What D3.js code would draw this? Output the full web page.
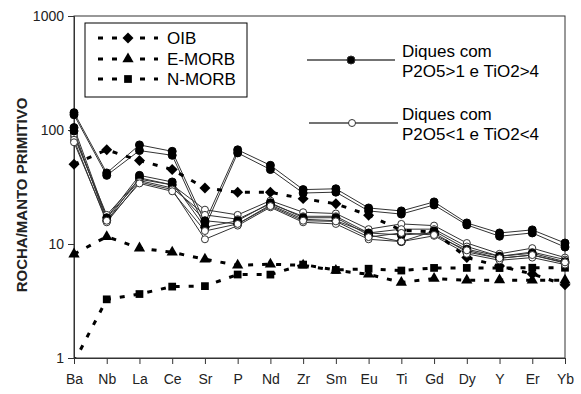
<html>
<head>
<meta charset="utf-8">
<script src="https://d3js.org/d3.v7.min.js"></script>
<style>
body { margin:0; background:#fff; }
text { font-family: Arial, "Liberation Sans", sans-serif; }
</style>
</head>
<body>
<svg id="chart" width="581" height="394"></svg>
<script>
// element order (spidergram)
const elements = ["Ba","Nb","La","Ce","Sr","P","Nd","Zr","Sm","Eu","Ti","Gd","Dy","Y","Er","Yb"];
const yTicks = [1, 10, 100, 1000];

// reference basalts, normalised to primitive mantle
const oib   = [50, 67, 54, 45, 31, 28.4, 28.4, 25, 22.5, 17.9, 13.2, 12.8, 7.6, 6.4, 5.46, 4.38];
const emorb = [8.15, 11.6, 9.2, 8.45, 7.35, 6.5, 6.65, 6.5, 5.86, 5.42, 4.6, 4.98, 4.8, 4.83, 4.8, 4.8];
const nmorb = [0.92, 3.27, 3.64, 4.23, 4.27, 5.4, 5.39, 6.6, 5.92, 6.07, 5.85, 6.17, 6.17, 6.15, 6.19, 6.19];

// dikes P2O5>1 e TiO2>4 (filled)
const diqueA = [142, 42, 74, 65, 15.5, 67, 49, 30, 30.5, 20.7, 19.5, 23.4, 15.3, 12.5, 13.3, 10.2];
const diqueB = [136, 40, 66, 60, 14, 63, 45, 28, 28.5, 19.5, 18.3, 22, 14.7, 11.7, 12.5, 9.4];
const diqueC = [105, 17, 40, 35, 14, 16, 23, 17, 17, 12, 10.5, 13, 9, 7.8, 8.3, 7];
const diqueD = [98, 16, 38, 33, 16, 15, 22, 16.5, 16, 12.5, 12, 12.5, 8.5, 7.5, 8, 6.8];
// dikes P2O5<1 e TiO2<4 (open)
const diqueE = [88, 18, 37, 33, 20, 18, 24, 19, 18.5, 13.5, 15, 14.5, 10.2, 8.2, 9.2, 7.6];
const diqueF = [82, 15.5, 35, 30, 11, 14.5, 21, 15.5, 15, 11, 10.5, 11.8, 8.2, 7.2, 7.6, 6.6];
const diqueG = [92, 17, 36, 31, 18, 16.5, 22.5, 17.5, 17.5, 12.5, 13.5, 13.5, 9.5, 7.8, 8.5, 7.3];
const diqueH = [78, 16, 34, 29, 13, 15, 21.5, 16, 15.8, 11.5, 12.5, 12, 8.8, 7.5, 8, 6.9];

const svg = d3.select("#chart");
const pLeft = 74, pRight = 565, pTop = 16, pBottom = 358;

const x = d3.scalePoint().domain(elements).range([pLeft, pRight]);
const y = d3.scaleLog().domain([1, 1000]).range([pBottom, pTop]);

svg.append("defs").append("clipPath").attr("id", "plotclip")
  .append("rect").attr("x", pLeft - 6).attr("y", pTop).attr("width", pRight - pLeft + 12).attr("height", pBottom - pTop);

// frame
svg.append("rect").attr("x", pLeft).attr("y", pTop).attr("width", pRight - pLeft).attr("height", pBottom - pTop)
  .attr("fill", "none").attr("stroke", "#333").attr("stroke-width", 1);

// y axis
const yAxis = svg.append("g").attr("transform", `translate(${pLeft},0)`)
  .call(d3.axisLeft(y).tickValues(yTicks).tickFormat(d3.format("d")).tickSize(6).tickPadding(4));
yAxis.select(".domain").attr("stroke", "#333");
yAxis.selectAll("line").attr("stroke", "#333");
yAxis.selectAll("text").attr("font-size", 14).attr("fill", "#222").attr("font-family", "Arial, 'Liberation Sans', sans-serif");

// x axis
const xAxis = svg.append("g").attr("transform", `translate(0,${pBottom})`)
  .call(d3.axisBottom(x).tickSize(6).tickPadding(10));
xAxis.select(".domain").attr("stroke", "#333");
xAxis.selectAll("line").attr("stroke", "#333");
xAxis.selectAll("text").attr("font-size", 14).attr("fill", "#222").attr("font-family", "Arial, 'Liberation Sans', sans-serif");

svg.append("text")
  .attr("transform", "translate(27,195) rotate(-90)")
  .attr("text-anchor", "middle")
  .attr("font-size", 15).attr("font-weight", "bold").attr("fill", "#222")
  .text("ROCHA/MANTO PRIMITIVO");

const plot = svg.append("g").attr("clip-path", "url(#plotclip)");
const line = d3.line().x((d, i) => x(elements[i])).y(d => y(d));

// dike lines
const dikes = [
  {v: diqueA, filled: true}, {v: diqueB, filled: true},
  {v: diqueE, filled: false}, {v: diqueG, filled: false},
  {v: diqueC, filled: true}, {v: diqueD, filled: true},
  {v: diqueF, filled: false}, {v: diqueH, filled: false}
];
dikes.forEach(s => {
  plot.append("path").datum(s.v).attr("d", line)
    .attr("fill", "none").attr("stroke", "#333").attr("stroke-width", 1);
});

// reference dashed lines (diamond = square turned 45deg)
const refs = [
  {v: oib, sym: d3.symbolSquare, size: 60, rot: 45},
  {v: emorb, sym: d3.symbolTriangle, size: 55, rot: 0},
  {v: nmorb, sym: d3.symbolSquare, size: 60, rot: 0}
];
refs.forEach(s => {
  plot.append("path").datum(s.v).attr("d", line)
    .attr("fill", "none").attr("stroke", "#000").attr("stroke-width", 3)
    .attr("stroke-dasharray", "5,9");
  plot.selectAll(null).data(s.v).enter().append("path")
    .attr("transform", (d, i) => `translate(${x(elements[i])},${y(d)}) rotate(${s.rot})`)
    .attr("d", d3.symbol().type(s.sym).size(s.size)).attr("fill", "#000");
});

// dike markers
dikes.forEach(s => {
  plot.selectAll(null).data(s.v).enter().append("circle")
    .attr("cx", (d, i) => x(elements[i])).attr("cy", d => y(d))
    .attr("r", s.filled ? 4 : 3.5)
    .attr("fill", s.filled ? "#000" : "#fff")
    .attr("stroke", s.filled ? "#000" : "#333").attr("stroke-width", 1);
});

// legend 1
const lg = svg.append("g");
lg.append("rect").attr("x", 85).attr("y", 23).attr("width", 162).attr("height", 74)
  .attr("fill", "#fff").attr("stroke", "#000").attr("stroke-width", 1);
const legRefs = [
  {name: "OIB", sym: d3.symbolSquare, size: 60, rot: 45, yy: 38},
  {name: "E-MORB", sym: d3.symbolTriangle, size: 55, rot: 0, yy: 59},
  {name: "N-MORB", sym: d3.symbolSquare, size: 60, rot: 0, yy: 79}
];
legRefs.forEach(r => {
  lg.append("line").attr("x1", 98).attr("x2", 158).attr("y1", r.yy).attr("y2", r.yy)
    .attr("stroke", "#000").attr("stroke-width", 3).attr("stroke-dasharray", "5,9");
  lg.append("path").attr("transform", `translate(128,${r.yy}) rotate(${r.rot})`)
    .attr("d", d3.symbol().type(r.sym).size(r.size)).attr("fill", "#000");
  lg.append("text").attr("x", 167).attr("y", r.yy + 6).attr("font-size", 17).attr("fill", "#000").text(r.name);
});

// legend 2
const legDikes = [
  {l1: "Diques com", l2: "P2O5>1 e TiO2>4", filled: true, yy: 60, x1: 307, x2: 395, mx: 351},
  {l1: "Diques com", l2: "P2O5<1 e TiO2<4", filled: false, yy: 123, x1: 309, x2: 398, mx: 352}
];
legDikes.forEach(r => {
  lg.append("line").attr("x1", r.x1).attr("x2", r.x2).attr("y1", r.yy).attr("y2", r.yy)
    .attr("stroke", "#444").attr("stroke-width", 1.5);
  lg.append("circle").attr("cx", r.mx).attr("cy", r.yy).attr("r", r.filled ? 4 : 3.5)
    .attr("fill", r.filled ? "#000" : "#fff").attr("stroke", "#333");
  lg.append("text").attr("x", 402).attr("y", r.yy - 3).attr("font-size", 17).attr("fill", "#000").text(r.l1);
  lg.append("text").attr("x", 402).attr("y", r.yy + 17).attr("font-size", 17).attr("fill", "#000").text(r.l2);
});
</script>
</body>
</html>
